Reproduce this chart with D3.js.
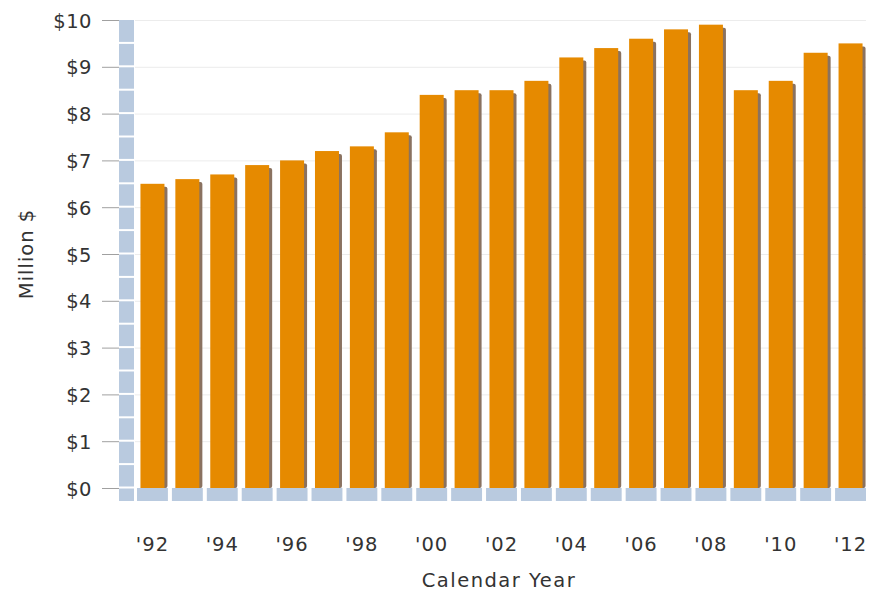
<!DOCTYPE html>
<html>
<head>
<meta charset="utf-8">
<script src="https://cdn.jsdelivr.net/npm/d3@7"></script>
<style>
  html, body { margin: 0; padding: 0; background: #ffffff; }
  svg text { font-family: "DejaVu Sans", Verdana, sans-serif; fill: #333333; }
</style>
</head>
<body>
<svg id="chart" width="869" height="594"></svg>
<script>
const years = ["1992","1993","1994","1995","1996","1997","1998","1999","2000","2001","2002","2003","2004","2005","2006","2007","2008","2009","2010","2011","2012"];
const values = [6.5, 6.6, 6.7, 6.9, 7.0, 7.2, 7.3, 7.6, 8.4, 8.5, 8.5, 8.7, 9.2, 9.4, 9.6, 9.8, 9.9, 8.5, 8.7, 9.3, 9.5];
const yTicks = [0, 1, 2, 3, 4, 5, 6, 7, 8, 9, 10];
const xTickLabels = ["'92","'94","'96","'98","'00","'02","'04","'06","'08","'10","'12"];
const xTickYears = ["1992","1994","1996","1998","2000","2002","2004","2006","2008","2010","2012"];
const yTitle = "Million $";
const xTitle = "Calendar Year";

const svg = d3.select("#chart");
const FS = 19.5;

const x = d3.scaleBand().domain(years).range([135, 868]).paddingInner(0).paddingOuter(0);
const y = d3.scaleLinear().domain([0, 10]).range([488, 20]);
const step = x.step();
const barW = 24;

// gridlines
svg.append("g").selectAll("line").data(yTicks.filter(d => d > 0)).join("line")
  .attr("x1", 135).attr("x2", 866)
  .attr("y1", d => y(d) + 0.5).attr("y2", d => y(d) + 0.5)
  .attr("stroke", "#ececec").attr("stroke-width", 1);

// side wall
const wallX = 119, wallW = 15, floorBottom = 501;
svg.append("rect").attr("x", wallX).attr("y", y(10)).attr("width", wallW)
  .attr("height", floorBottom - y(10)).attr("fill", "#b9cadf");
const wallLines = y.ticks(20);
svg.append("g").selectAll("line").data(wallLines.filter(d => d < 10)).join("line")
  .attr("x1", wallX).attr("x2", wallX + wallW)
  .attr("y1", d => y(d) - 0.5).attr("y2", d => y(d) - 0.5)
  .attr("stroke", "#ffffff").attr("stroke-width", 2);

// floor segments
svg.append("g").selectAll("rect").data(years).join("rect")
  .attr("x", d => x(d) + 2).attr("y", y(0))
  .attr("width", step - 4).attr("height", floorBottom - y(0))
  .attr("fill", "#b9cadf");

// y tick marks + labels
const yAxis = d3.axisLeft(y).tickValues(yTicks).tickSize(17).tickFormat(d => "$" + d);
const gy = svg.append("g").attr("transform", `translate(${wallX},0)`).call(yAxis);
gy.select(".domain").remove();
gy.selectAll(".tick line").attr("stroke", "#a0a0a0");
gy.selectAll(".tick text").attr("x", -27).attr("dy", "0.36em")
  .style("font-size", FS + "px").style("letter-spacing", "0.5px").attr("fill", "#333333");

// bar shadows
svg.append("g").selectAll("rect").data(years).join("rect")
  .attr("x", d => x(d) + (step - barW) / 2 + 3)
  .attr("y", (d, i) => y(values[i]) + 3)
  .attr("width", barW).attr("height", (d, i) => y(0) - y(values[i]) - 3)
  .attr("rx", 2)
  .attr("fill", "#8a7260");

// bars
svg.append("g").selectAll("rect").data(years).join("rect")
  .attr("x", d => x(d) + (step - barW) / 2)
  .attr("y", (d, i) => y(values[i]))
  .attr("width", barW).attr("height", (d, i) => y(0) - y(values[i]))
  .attr("fill", "#e68a00");

// x labels
const xAxis = d3.axisBottom(x).tickValues(xTickYears).tickSize(0)
  .tickFormat(d => xTickLabels[xTickYears.indexOf(d)]);
const gx = svg.append("g").attr("transform", `translate(0,${floorBottom})`).call(xAxis);
gx.select(".domain").remove();
gx.selectAll(".tick text").attr("y", 50).attr("dy", 0)
  .style("font-size", FS + "px").style("letter-spacing", "1px").attr("fill", "#333333");

// axis titles
svg.append("text").attr("x", 499).attr("y", 587).attr("text-anchor", "middle")
  .style("font-size", FS + "px").style("letter-spacing", "1.5px").text(xTitle);
svg.append("text").attr("transform", "translate(33,254) rotate(-90)")
  .attr("text-anchor", "middle").style("font-size", FS + "px").style("letter-spacing", "1px").text(yTitle);
</script>
</body>
</html>
